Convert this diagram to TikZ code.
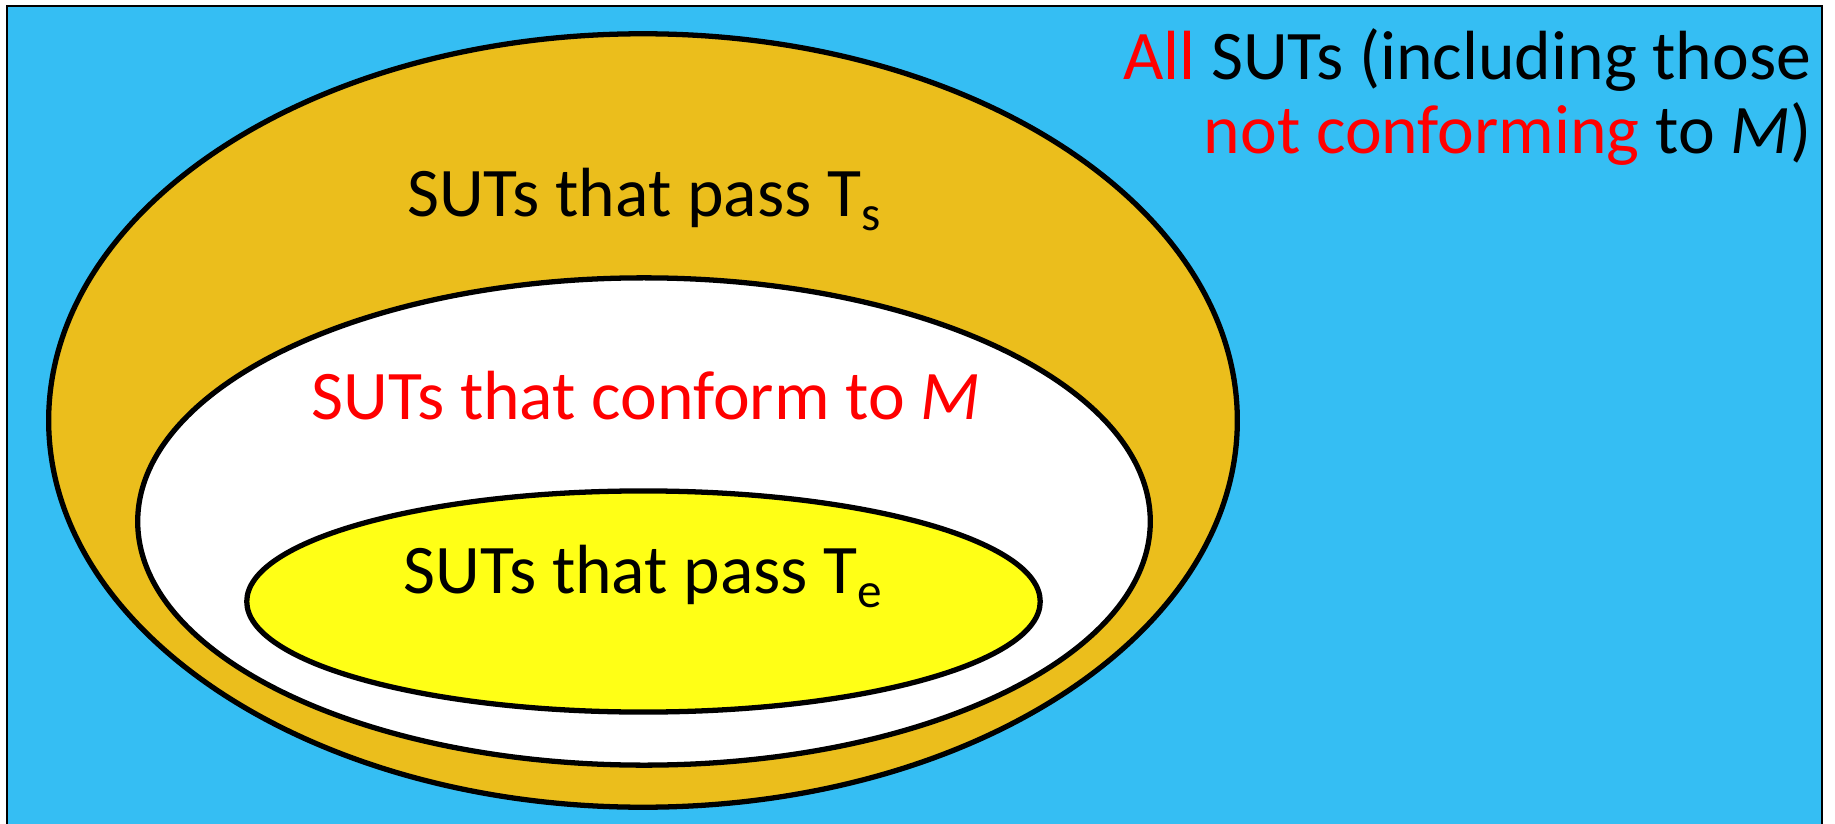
\documentclass[tikz,border=0pt]{standalone}
\usepackage{fontspec}
\setmainfont{Carlito}
\usetikzlibrary{positioning}

\definecolor{skyblue}{HTML}{35BEF3}
\definecolor{gold}{HTML}{EBBE1C}
\definecolor{lemon}{HTML}{FFFF16}
\definecolor{brightred}{HTML}{FF0000}

\newcommand{\lowsub}[1]{\raisebox{-0.45ex}{\fontsize{14}{14}\selectfont #1}}

\begin{document}
\begin{tikzpicture}[
        x=0.01cm, y=-0.01cm,
        set/.style={draw, line width=1.5pt},
        lbl/.style={anchor=base, inner sep=0pt, font=\fontsize{19.8}{24}\selectfont}
    ]
        \useasboundingbox (0,0) rectangle (1835,824);
        \clip (0,0) rectangle (1835,824);

        % Universe of all SUTs
        \draw[fill=skyblue, line width=0.8pt] (7,6) rectangle (1822,860);

        % Nested sets
        \draw[set, fill=gold] (643,420.5) ellipse [x radius=5.94cm, y radius=3.865cm];
        \draw[set, fill=white] (644,521.5) ellipse [x radius=5.06cm, y radius=2.435cm];
        \draw[set, fill=lemon] (643.5,601.5) ellipse [x radius=3.965cm, y radius=1.105cm];

        % Labels
        \node[lbl] (pass_s) at (644,216) {SUTs that pass T\lowsub{s}};
        \node[lbl, text=brightred] (conform) at (646,419) {SUTs that conform to \textit{M}};
        \node[lbl] (pass_e) at (643,593) {SUTs that pass T\lowsub{e}};

        \node[lbl, anchor=base east] (all) at (1812,80) {\textcolor{brightred}{All} SUTs (including those};
        \node[lbl, anchor=base east] (notconf) at (1812,153) {\textcolor{brightred}{not conforming} to \textit{M})};
    \end{tikzpicture}
\end{document}
